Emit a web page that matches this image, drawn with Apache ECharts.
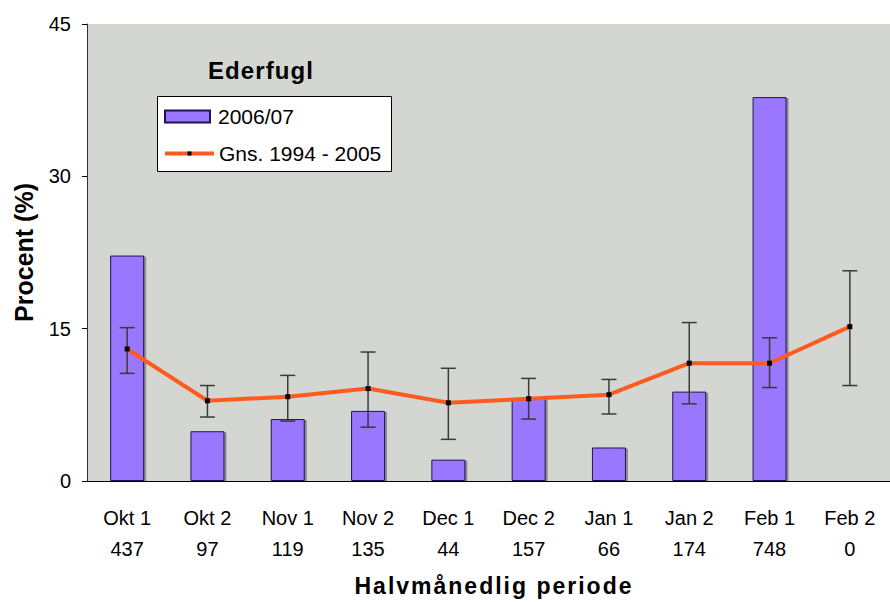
<!DOCTYPE html>
<html>
<head>
<meta charset="utf-8">
<script src="https://cdn.jsdelivr.net/npm/echarts@6/dist/echarts.min.js"></script>
<style>
  html, body { margin: 0; padding: 0; background: #fff; }
  #chart { width: 890px; height: 602px; }
  /* the original has spaced-out bold titles */
  #chart text[style*="23px"] { letter-spacing: 2px; }
  #chart text[style*="24px"] { letter-spacing: 1.1px; }
</style>
</head>
<body>
<div id="chart"></div>
<script>
// data
const periods = ['Okt 1', 'Okt 2', 'Nov 1', 'Nov 2', 'Dec 1', 'Dec 2', 'Jan 1', 'Jan 2', 'Feb 1', 'Feb 2'];
const counts  = [437, 97, 119, 135, 44, 157, 66, 174, 748, 0];
const season  = [22.2, 4.9, 6.1, 6.9, 2.1, 8.1, 3.3, 8.8, 37.8, 0];
const average = [13.0, 7.9, 8.3, 9.1, 7.7, 8.1, 8.5, 11.6, 11.6, 15.2];
const errLow  = [10.6, 6.3, 5.9, 5.3, 4.1, 6.1, 6.6, 7.6, 9.2, 9.4];
const errHigh = [15.1, 9.4, 10.4, 12.7, 11.1, 10.1, 10.0, 15.6, 14.1, 20.7];

const font = 'Liberation Sans, Arial, sans-serif';
const chart = echarts.init(document.getElementById('chart'), null, { renderer: 'svg' });

const legendText = { fontFamily: font, fontSize: 21, color: '#000' };

chart.setOption({
  backgroundColor: '#fff',
  animation: false,
  textStyle: { fontFamily: font, color: '#000' },
  title: {
    text: 'Ederfugl',
    left: 208, top: 58, padding: 0,
    textStyle: { fontFamily: font, fontSize: 24, fontWeight: 'bold', color: '#000' }
  },
  // legend frame
  graphic: [{
    type: 'rect', left: 157, top: 96, z: 10,
    shape: { width: 234, height: 75 },
    style: { fill: '#fff', stroke: '#000', lineWidth: 1 }
  }],
  legend: [
    {
      left: 164, top: 106, padding: 0, z: 11,
      itemWidth: 45, itemHeight: 12,
      textStyle: Object.assign({ padding: [0, 0, 0, 3] }, legendText),
      data: [{ name: '2006/07', icon: 'rect' }]
    },
    {
      left: 163, top: 143, padding: 0, z: 11,
      itemWidth: 49, itemHeight: 5,
      lineStyle: { width: 4 },
      textStyle: legendText,
      data: [{ name: 'Gns. 1994 - 2005' }]
    }
  ],
  grid: {
    left: 87, top: 24, width: 810, bottom: 119,
    show: true, backgroundColor: '#d4d6d2', borderWidth: 0
  },
  xAxis: {
    type: 'category',
    data: periods,
    axisLine: { lineStyle: { color: '#000', width: 1 } },
    axisTick: { length: 6, lineStyle: { color: '#000' } },
    axisLabel: {
      fontFamily: font, fontSize: 20, color: '#000', lineHeight: 31, margin: 21,
      interval: 0,
      formatter: (v, i) => v + '\n' + counts[i]
    },
    name: 'Halvmånedlig periode',
    nameLocation: 'middle',
    nameGap: 93,
    nameTextStyle: { fontFamily: font, fontSize: 23, fontWeight: 'bold', color: '#000', padding: [0, 0, 0, 11] }
  },
  yAxis: {
    type: 'value',
    min: 0, max: 45, interval: 15,
    axisLine: { show: true, lineStyle: { color: '#333', width: 1 } },
    axisTick: { show: true, length: 5, lineStyle: { color: '#000' } },
    axisLabel: { fontFamily: font, fontSize: 20, color: '#000', margin: 16 },
    splitLine: { show: false },
    name: 'Procent (%)',
    nameLocation: 'middle',
    nameGap: 51,
    nameTextStyle: { fontFamily: font, fontSize: 25, fontWeight: 'bold', color: '#000' }
  },
  series: [
    {
      name: '2006/07',
      type: 'bar',
      data: season.map(v => (v === 0 ? '-' : v)),
      barWidth: 34,
      itemStyle: {
        color: '#9977ff', borderColor: '#221155', borderWidth: 1,
        shadowColor: 'rgba(0,0,0,0.35)', shadowOffsetX: 2, shadowOffsetY: 1, shadowBlur: 0
      },
      z: 2
    },
    {
      name: 'errors',
      type: 'custom',
      data: periods.map((p, i) => [i, errLow[i], errHigh[i]]),
      renderItem: (params, api) => {
        const lo = api.coord([api.value(0), api.value(1)]);
        const hi = api.coord([api.value(0), api.value(2)]);
        const w = 7.5;
        const style = { stroke: '#3a3a3a', lineWidth: 1.5 };
        return {
          type: 'group',
          children: [
            { type: 'line', shape: { x1: hi[0], y1: hi[1], x2: lo[0], y2: lo[1] }, style },
            { type: 'line', shape: { x1: hi[0] - w, y1: hi[1], x2: hi[0] + w, y2: hi[1] }, style },
            { type: 'line', shape: { x1: lo[0] - w, y1: lo[1], x2: lo[0] + w, y2: lo[1] }, style }
          ]
        };
      },
      z: 3
    },
    {
      name: 'Gns. 1994 - 2005',
      type: 'line',
      data: average,
      symbol: 'rect',
      symbolSize: 5,
      showAllSymbol: true,
      lineStyle: { color: '#ff5a1f', width: 4 },
      itemStyle: { color: '#000', borderWidth: 0 },
      z: 4
    }
  ]
});
</script>
</body>
</html>
